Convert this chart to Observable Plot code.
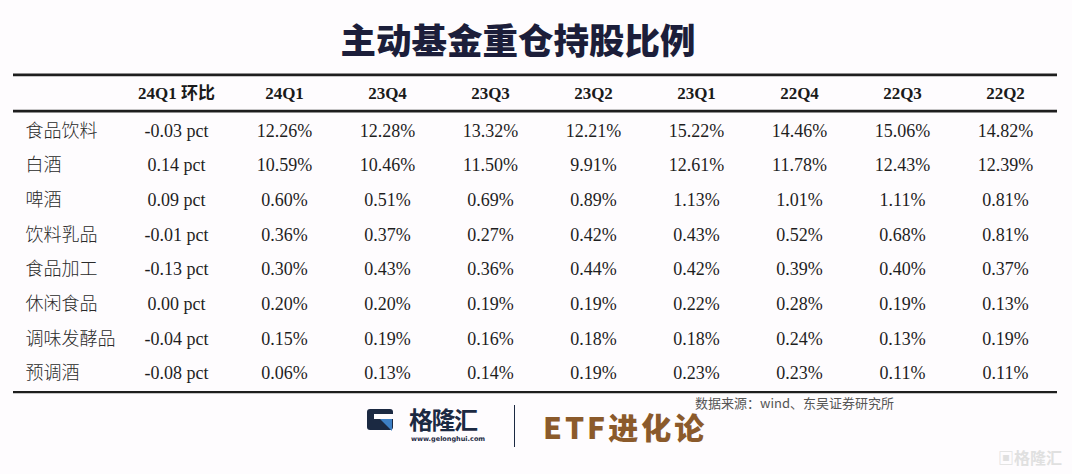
<!DOCTYPE html>
<html><head><meta charset="utf-8">
<script src="https://cdn.jsdelivr.net/npm/d3@7"></script>
<script src="https://cdn.jsdelivr.net/npm/@observablehq/plot@0.6"></script>
<style>
html,body{margin:0;padding:0;background:#fefcfe;}
#wrap{position:relative;width:1072px;height:474px;overflow:hidden;background:#fefcfe;}
#wrap svg{position:absolute;left:0;top:0;}
.abs{position:absolute;white-space:nowrap;}
#title{left:0;width:1036px;top:15px;text-align:center;font-family:"Noto Sans CJK SC";font-weight:900;font-size:35.5px;line-height:48px;color:#1c1e3a;}
#source{left:695px;top:394px;font-family:"Noto Sans CJK SC";font-size:13px;line-height:18px;color:#555;}
#icon{left:367px;top:409px;width:26px;height:21px;background:#1b2942;border-radius:3px;}
#icon2{left:379px;top:418px;width:0;height:0;border-left:13px solid transparent;border-top:13px solid #3d7fc4;}
#icon3{left:374px;top:414px;width:19px;height:5px;background:#fefcfe;}
#glh{left:409px;top:403px;font-family:"Noto Sans CJK SC";font-weight:700;font-size:24px;line-height:32px;color:#1b2942;letter-spacing:-1.5px;}
#url{left:411px;top:435px;font-family:"DejaVu Sans";font-weight:700;font-size:6.5px;line-height:8px;color:#1b2942;}
#divider{left:514px;top:405px;width:1px;height:42px;background:#1b2942;}
#etf{left:543px;top:405px;font-family:"Noto Sans CJK SC";font-weight:900;font-size:30px;line-height:42px;color:#8b5a2b;letter-spacing:3px;}
#wm{left:998px;top:446px;font-family:"Noto Sans CJK SC";font-weight:700;font-size:16px;line-height:22px;color:#e0e0e0;}
</style></head><body><div id="wrap"></div>
<script>
const columns = ["24Q1 环比","24Q1","23Q4","23Q3","23Q2","23Q1","22Q4","22Q3","22Q2"];
const categories = ["食品饮料","白酒","啤酒","饮料乳品","食品加工","休闲食品","调味发酵品","预调酒"];
const qoqChange = [-0.03, 0.14, 0.09, -0.01, -0.13, 0.00, -0.04, -0.08];
const s24Q1 = [12.26, 10.59, 0.60, 0.36, 0.30, 0.20, 0.15, 0.06];
const s23Q4 = [12.28, 10.46, 0.51, 0.37, 0.43, 0.20, 0.19, 0.13];
const s23Q3 = [13.32, 11.50, 0.69, 0.27, 0.36, 0.19, 0.16, 0.14];
const s23Q2 = [12.21, 9.91, 0.89, 0.42, 0.44, 0.19, 0.18, 0.19];
const s23Q1 = [15.22, 12.61, 1.13, 0.43, 0.42, 0.22, 0.18, 0.23];
const s22Q4 = [14.46, 11.78, 1.01, 0.52, 0.39, 0.28, 0.24, 0.23];
const s22Q3 = [15.06, 12.43, 1.11, 0.68, 0.40, 0.19, 0.13, 0.11];
const s22Q2 = [14.82, 12.39, 0.81, 0.81, 0.37, 0.13, 0.19, 0.11];
const titleText = "主动基金重仓持股比例";
const sourceText = "数据来源：wind、东吴证券研究所";

const quarterSeries = [s24Q1, s23Q4, s23Q3, s23Q2, s23Q1, s22Q4, s22Q3, s22Q2];
const qoqCells = categories.map((c, i) => ({col: columns[0], row: i, label: qoqChange[i].toFixed(2) + " pct"}));
const cells = [];
categories.forEach((c, i) => {
  quarterSeries.forEach((s, j) => cells.push({col: columns[j + 1], row: i, label: s[i].toFixed(2) + "%"}));
});
const rowLabels = categories.map((c, i) => ({row: i, label: c}));
const header = columns.slice(1).map(c => ({col: c, row: -1}));
const header0 = [{col: columns[0], row: -1}];

const serif = "'Liberation Serif', 'Times New Roman', 'Noto Sans CJK SC', serif";
const headFont = {fontFamily: serif, fontWeight: "bold", fontSize: 17, fill: "#1a1a1a"};
const cellFont = {fontFamily: serif, fontSize: 18, fill: "#1e1e1e"};
const chart = Plot.plot({
  width: 1072, height: 474,
  marginLeft: 13, marginRight: 15, marginTop: 0, marginBottom: 0,
  style: {background: "transparent", overflow: "visible"},
  x: {type: "point", domain: columns, range: [180, 1005], padding: 0, axis: null},
  y: {type: "linear", domain: [0, 7], range: [130.5, 373], axis: null},
  marks: [
    Plot.ruleY([-1], {dy: -21.5, stroke: "#1e1e1e", strokeWidth: 2.6}),
    Plot.ruleY([-1], {dy: 14.8, stroke: "#1e1e1e", strokeWidth: 2.6}),
    Plot.ruleY([7], {dy: 18.7, stroke: "#1e1e1e", strokeWidth: 2.2}),
    Plot.text(header0, {x: "col", y: "row", text: "col", dy: -2.5, dx: -5, ...headFont}),
    Plot.text(header, {x: "col", y: "row", text: "col", dy: -2.5, ...headFont}),
    Plot.text(rowLabels, {y: "row", text: "label", frameAnchor: "left", textAnchor: "start", dx: 12,
      fontFamily: "'Noto Sans CJK SC'", fontWeight: 300, fontSize: 18, fill: "#2a2a2a"}),
    Plot.text(qoqCells, {x: "col", y: "row", text: "label", dx: -5, ...cellFont}),
    Plot.text(cells, {x: "col", y: "row", text: "label", ...cellFont})
  ]
});
const wrap = document.getElementById("wrap");
wrap.appendChild(chart);
const add = (id, txt) => { const d = document.createElement("div"); d.id = id; d.className = "abs"; if (txt) d.textContent = txt; wrap.appendChild(d); };
add("title", titleText);
add("source", sourceText);
add("icon"); add("icon2"); add("icon3");
add("glh", "格隆汇");
add("url", "www.gelonghui.com");
add("divider");
add("etf", "ETF进化论");
add("wm", "▣格隆汇");
</script></body></html>
